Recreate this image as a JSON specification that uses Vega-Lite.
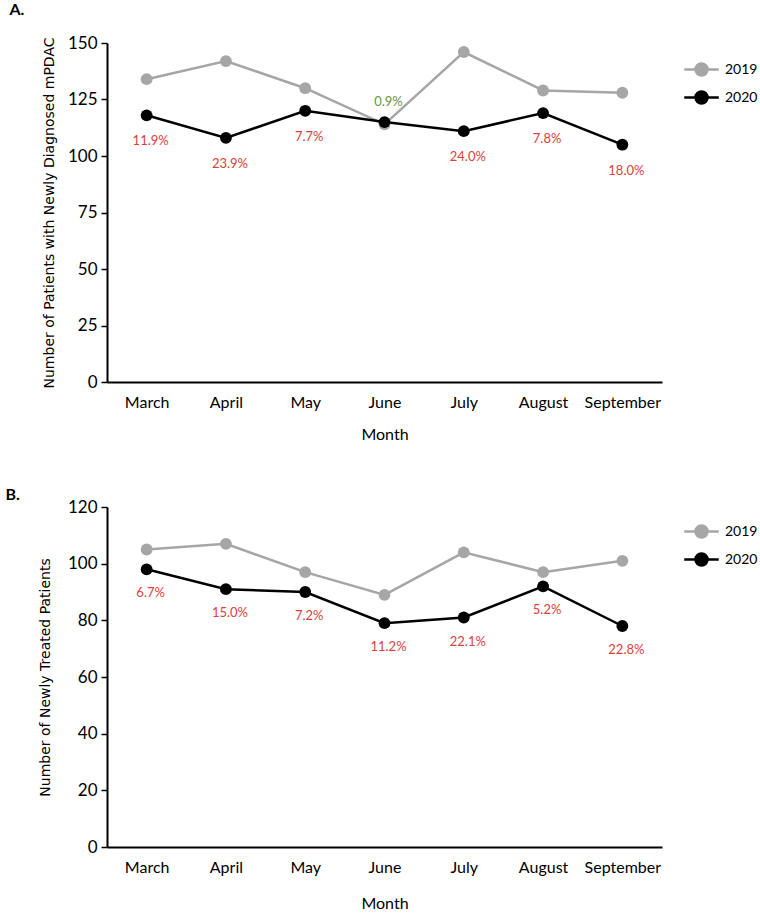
{
  "$schema": "https://vega.github.io/schema/vega-lite/v6.json",
  "padding": {"left": 5, "top": 2, "right": 0, "bottom": 2},
  "config": {
    "view": {"stroke": null},
    "font": "Lato",
    "axis": {"domainColor": "black", "domainWidth": 2, "tickColor": "black", "tickWidth": 1.5, "labelColor": "black", "titleColor": "black", "grid": false, "labelFont": "Lato", "labelFontSize": 16, "titleFont": "Lato", "titleFontWeight": "normal", "titleFontSize": 16},
    "legend": {"orient": "none", "title": null, "symbolType": "M-1.15,0L1.15,0M-0.4,0A0.4,0.4,0,1,1,0.4,0A0.4,0.4,0,1,1,-0.4,0", "symbolSize": 900, "symbolStrokeWidth": 2.5, "labelFontSize": 14, "labelFont": "Lato", "labelColor": "black", "rowPadding": 0, "labelOffset": 7},
    "title": {"font": "Lato", "fontSize": 16, "fontWeight": "bold", "anchor": "start", "color": "black"}
  },
  "datasets": {
    "a": [
      {"month": "March", "year": "2019", "patients": 134},
      {"month": "April", "year": "2019", "patients": 142},
      {"month": "May", "year": "2019", "patients": 130},
      {"month": "June", "year": "2019", "patients": 114},
      {"month": "July", "year": "2019", "patients": 146},
      {"month": "August", "year": "2019", "patients": 129},
      {"month": "September", "year": "2019", "patients": 128},
      {"month": "March", "year": "2020", "patients": 118, "pct": "11.9%", "change": "decrease"},
      {"month": "April", "year": "2020", "patients": 108, "pct": "23.9%", "change": "decrease"},
      {"month": "May", "year": "2020", "patients": 120, "pct": "7.7%", "change": "decrease"},
      {"month": "June", "year": "2020", "patients": 115, "pct": "0.9%", "change": "increase"},
      {"month": "July", "year": "2020", "patients": 111, "pct": "24.0%", "change": "decrease"},
      {"month": "August", "year": "2020", "patients": 119, "pct": "7.8%", "change": "decrease"},
      {"month": "September", "year": "2020", "patients": 105, "pct": "18.0%", "change": "decrease"}
    ],
    "b": [
      {"month": "March", "year": "2019", "patients": 105},
      {"month": "April", "year": "2019", "patients": 107},
      {"month": "May", "year": "2019", "patients": 97},
      {"month": "June", "year": "2019", "patients": 89},
      {"month": "July", "year": "2019", "patients": 104},
      {"month": "August", "year": "2019", "patients": 97},
      {"month": "September", "year": "2019", "patients": 101},
      {"month": "March", "year": "2020", "patients": 98, "pct": "6.7%", "change": "decrease"},
      {"month": "April", "year": "2020", "patients": 91, "pct": "15.0%", "change": "decrease"},
      {"month": "May", "year": "2020", "patients": 90, "pct": "7.2%", "change": "decrease"},
      {"month": "June", "year": "2020", "patients": 79, "pct": "11.2%", "change": "decrease"},
      {"month": "July", "year": "2020", "patients": 81, "pct": "22.1%", "change": "decrease"},
      {"month": "August", "year": "2020", "patients": 92, "pct": "5.2%", "change": "decrease"},
      {"month": "September", "year": "2020", "patients": 78, "pct": "22.8%", "change": "decrease"}
    ]
  },
  "vconcat": [
    {
      "width": 555,
      "height": 339,
      "title": {"text": "A.", "dx": -33, "offset": 16},
      "data": {"name": "a"},
      "encoding": {
        "x": {"field": "month", "type": "ordinal", "sort": ["March", "April", "May", "June", "July", "August", "September"], "scale": {"type": "point", "padding": 0.5}, "axis": {"title": "Month", "labelAngle": 0, "ticks": false, "labelPadding": 12, "titlePadding": 16}},
        "y": {"field": "patients", "type": "quantitative", "scale": {"domain": [0, 150]}, "axis": {"values": [0, 25, 50, 75, 100, 125, 150], "title": "Number of Patients with Newly Diagnosed mPDAC", "titleFont": "DejaVu Sans", "titleFontSize": 14, "tickSize": 6, "labelFontSize": 17, "labelPadding": 4, "titlePadding": 11}}
      },
      "layer": [
        {
          "mark": {"type": "line", "strokeWidth": 2.5},
          "encoding": {"color": {"field": "year", "type": "nominal", "scale": {"domain": ["2019", "2020"], "range": ["#A6A6A6", "#000000"]}, "legend": {"legendX": 578, "legendY": 10}}}
        },
        {
          "mark": {"type": "point", "filled": true, "size": 140, "opacity": 1},
          "encoding": {"color": {"field": "year", "type": "nominal", "scale": {"domain": ["2019", "2020"], "range": ["#A6A6A6", "#000000"]}, "legend": {"legendX": 578, "legendY": 10}}}
        },
        {
          "transform": [{"filter": "datum.change === 'decrease'"}],
          "mark": {"type": "text", "dy": 26, "dx": 4, "fontSize": 13, "font": "Lato", "color": "#D9413A"},
          "encoding": {"text": {"field": "pct"}}
        },
        {
          "transform": [{"filter": "datum.change === 'increase'"}],
          "mark": {"type": "text", "dy": -20, "dx": 4, "fontSize": 13, "font": "Lato", "color": "#6A9440"},
          "encoding": {"text": {"field": "pct"}}
        }
      ]
    },
    {
      "width": 555,
      "height": 340,
      "title": {"text": "B.", "dx": -33, "offset": -5},
      "data": {"name": "b"},
      "encoding": {
        "x": {"field": "month", "type": "ordinal", "sort": ["March", "April", "May", "June", "July", "August", "September"], "scale": {"type": "point", "padding": 0.5}, "axis": {"title": "Month", "labelAngle": 0, "ticks": false, "labelPadding": 12, "titlePadding": 20}},
        "y": {"field": "patients", "type": "quantitative", "scale": {"domain": [0, 120]}, "axis": {"values": [0, 20, 40, 60, 80, 100, 120], "title": "Number of Newly Treated Patients", "titleFont": "DejaVu Sans", "titleFontSize": 14, "tickSize": 6, "labelFontSize": 17, "labelPadding": 4, "titlePadding": 15}}
      },
      "layer": [
        {
          "mark": {"type": "line", "strokeWidth": 2.5},
          "encoding": {"color": {"field": "year", "type": "nominal", "scale": {"domain": ["2019", "2020"], "range": ["#A6A6A6", "#000000"]}, "legend": {"legendX": 578, "legendY": 8}}}
        },
        {
          "mark": {"type": "point", "filled": true, "size": 140, "opacity": 1},
          "encoding": {"color": {"field": "year", "type": "nominal", "scale": {"domain": ["2019", "2020"], "range": ["#A6A6A6", "#000000"]}, "legend": {"legendX": 578, "legendY": 8}}}
        },
        {
          "transform": [{"filter": "datum.change === 'decrease'"}],
          "mark": {"type": "text", "dy": 24, "dx": 4, "fontSize": 13, "font": "Lato", "color": "#D9413A"},
          "encoding": {"text": {"field": "pct"}}
        }
      ]
    }
  ],
  "spacing": 45,
  "resolve": {"scale": {"color": "independent", "y": "independent", "x": "independent"}, "legend": {"color": "independent"}}
}
